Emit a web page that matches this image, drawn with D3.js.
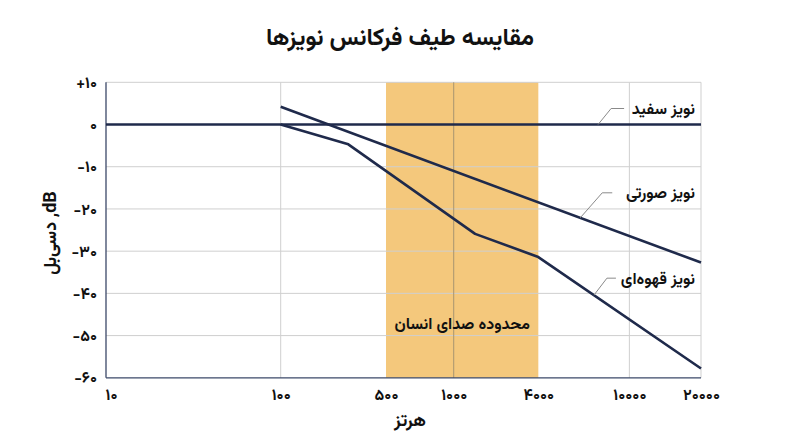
<!DOCTYPE html>
<html><head><meta charset="utf-8">
<script src="https://cdn.jsdelivr.net/npm/d3@7/dist/d3.min.js"></script>
<style>
html,body{margin:0;padding:0;background:#fff;}
svg text{font-family:"Vazirmatn","Noto Sans Arabic","Noto Naskh Arabic","DejaVu Sans","Noto Sans",sans-serif;}
</style></head>
<body><svg id="c" width="800" height="447"></svg>
<script>
// ---- data ----
const xTickValues = [10, 100, 500, 1000, 4000, 10000, 20000];
const xTickLabels = ["۱۰", "۱۰۰", "۵۰۰", "۱۰۰۰", "۴۰۰۰", "۱۰۰۰۰", "۲۰۰۰۰"];
const yTickValues = [10, 0, -10, -20, -30, -40, -50, -60];
const yTickLabels = ["+۱۰", "۰", "-۱۰", "-۲۰", "-۳۰", "-۴۰", "-۵۰", "-۶۰"];
const whiteFreq = [10, 20000];
const whiteDb = [0, 0];
const pinkFreq = [100, 20000];
const pinkDb = [4.2, -32.7];
const brownFreq = [100, 281, 1420, 4000, 20000];
const brownDb = [0, -4.7, -25.9, -31.4, -57.8];
const voiceBand = [500, 4000];
const seriesNames = ["نویز سفید", "نویز صورتی", "نویز قهوه‌ای"];
const labelAnchorFreq = [7300, 6100, 7000];
const title = "مقایسه طیف فرکانس نویزها";
const xTitle = "هرتز";
const yTitle = "دسی‌بل ,dB";
const bandLabel = "محدوده صدای انسان";

// ---- layout ----
const svg = d3.select("#c");
const L = 106, R = 701, T = 82.3, B = 377.8;
const W = R - L;
const xFrac = [0, 0.2936, 0.4706, 0.5844, 0.7266, 0.8796, 1];
const x = d3.scaleLog().domain(xTickValues).range(xFrac.map(f => L + f * W));
const y = d3.scaleLinear().domain([-60, 10]).range([B, T]);

const lineColor = "#1f2a4b";
const gridColor = "#cfcfcf";

// band
svg.append("rect")
  .attr("x", x(voiceBand[0])).attr("y", y(10))
  .attr("width", x(voiceBand[1]) - x(voiceBand[0]))
  .attr("height", y(-60) - y(10))
  .attr("fill", "#f4c87c");

// horizontal grid
svg.append("g").selectAll("line").data(yTickValues.filter(d => d !== -60)).join("line")
  .attr("x1", L).attr("x2", R)
  .attr("y1", d => y(d)).attr("y2", d => y(d))
  .attr("stroke", gridColor).attr("stroke-width", 1);
// vertical grid
const vGrid = [100, 1000, 10000, 20000];
svg.append("g").selectAll("line").data(vGrid).join("line")
  .attr("x1", d => x(d)).attr("x2", d => x(d))
  .attr("y1", T).attr("y2", B)
  .attr("stroke", d => d === 1000 ? "#a89570" : gridColor).attr("stroke-width", 1);

// axes lines
svg.append("line").attr("x1", L).attr("x2", L).attr("y1", T).attr("y2", B)
  .attr("stroke", "#3b4868").attr("stroke-width", 1.3);
svg.append("line").attr("x1", L).attr("x2", R).attr("y1", B).attr("y2", B)
  .attr("stroke", "#3b4868").attr("stroke-width", 1.3);

// axes ticks via d3 axes (labels only)
const xAxis = d3.axisBottom(x).tickValues(xTickValues)
  .tickFormat((d, i) => xTickLabels[i]).tickSize(0).tickPadding(11);
const gx = svg.append("g").attr("transform", `translate(0,${B})`).call(xAxis);
gx.select(".domain").remove();
gx.selectAll("text").attr("font-size", 16).attr("font-weight", "bold").attr("fill", "#111")
  .attr("dx", (d, i) => i === 0 ? 5 : 0);

const yAxis = d3.axisLeft(y).tickValues(yTickValues)
  .tickFormat((d, i) => yTickLabels[i]).tickSize(0).tickPadding(9);
const gy = svg.append("g").attr("transform", `translate(${L},0)`).call(yAxis);
gy.select(".domain").remove();
gy.selectAll("text").attr("font-size", 16).attr("font-weight", "bold").attr("fill", "#111");

// series
const line = d3.line().x(d => x(d[0])).y(d => y(d[1]));
const series = [
  d3.zip(whiteFreq, whiteDb),
  d3.zip(pinkFreq, pinkDb),
  d3.zip(brownFreq, brownDb)
];
svg.append("g").selectAll("path").data(series).join("path")
  .attr("d", line).attr("fill", "none")
  .attr("stroke", lineColor).attr("stroke-width", 2.6)
  .attr("stroke-linejoin", "round");

// leaders and labels
function pyAt(pts, f) {
  const px = x(f);
  for (let i = 0; i < pts.length - 1; i++) {
    const x0 = x(pts[i][0]), x1 = x(pts[i + 1][0]);
    if (px >= x0 && px <= x1) {
      const t = (px - x0) / (x1 - x0);
      return y(pts[i][1]) + t * (y(pts[i + 1][1]) - y(pts[i][1]));
    }
  }
  return y(pts[pts.length - 1][1]);
}
const leaderOffsets = [[13, -16, 26], [22, -25, 32], [13, -17, 22]];
series.forEach((pts, i) => {
  const ax = x(labelAnchorFreq[i]), ay = pyAt(pts, labelAnchorFreq[i]);
  const o = leaderOffsets[i];
  svg.append("polyline")
    .attr("points", `${ax},${ay} ${ax + o[0]},${ay + o[1]} ${ax + o[2]},${ay + o[1]}`)
    .attr("fill", "none").attr("stroke", "#8a8a8a").attr("stroke-width", 1);
  svg.append("text").attr("x", R - 6).attr("y", ay + o[1])
    .attr("dy", "0.35em").attr("text-anchor", "end")
    .attr("font-size", 16).attr("font-weight", "bold").attr("fill", "#111")
    .text(seriesNames[i]);
});

// band label
svg.append("text").attr("x", (x(voiceBand[0]) + x(voiceBand[1])) / 2).attr("y", y(-47))
  .attr("dy", "0.35em").attr("text-anchor", "middle")
  .attr("font-size", 16).attr("font-weight", "bold").attr("fill", "#111")
  .text(bandLabel);

// titles
svg.append("text").attr("x", 400).attr("y", 37).attr("dy", "0.35em")
  .attr("text-anchor", "middle").attr("font-size", 24).attr("font-weight", "bold")
  .attr("fill", "#111").text(title);
svg.append("text").attr("x", 410).attr("y", 420).attr("dy", "0.35em")
  .attr("text-anchor", "middle").attr("font-size", 18).attr("font-weight", "bold")
  .attr("fill", "#111").text(xTitle);
svg.append("text").attr("transform", "translate(50,233) rotate(-90)").attr("dy", "0.35em")
  .attr("text-anchor", "middle").attr("font-size", 18).attr("font-weight", "bold")
  .attr("fill", "#111").attr("direction", "ltr").text(yTitle);
</script></body></html>
